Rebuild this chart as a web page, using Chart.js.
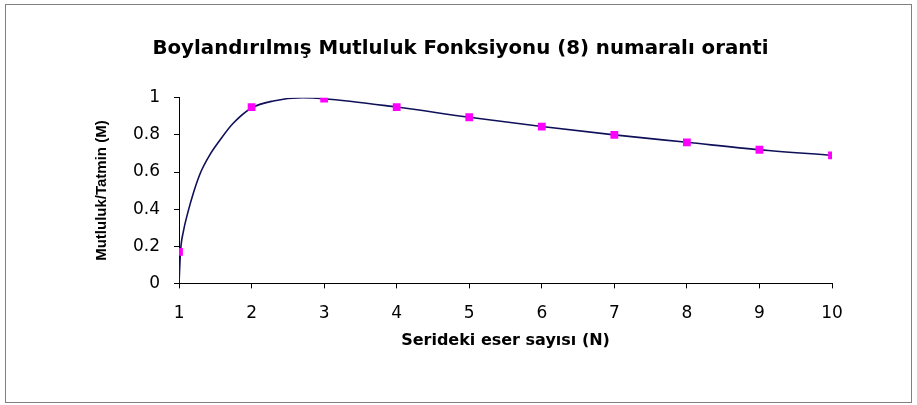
<!DOCTYPE html>
<html>
<head>
<meta charset="utf-8">
<script src="https://cdn.jsdelivr.net/npm/chart.js@4.4.0/dist/chart.umd.min.js"></script>
<style>
  html, body { margin: 0; padding: 0; background: #fff; }
  #frame { position: absolute; left: 5px; top: 4px; width: 905px; height: 397px; border: 1px solid #808080; }
  #wrap { position: absolute; left: 0; top: 0; width: 917px; height: 405px; }
</style>
</head>
<body>
<div id="frame"></div>
<div id="wrap"><canvas id="chart"></canvas></div>
<script>
// sample points (markers)
const seriesN = [1, 2, 3, 4, 5, 6, 7, 8, 9, 10];
const seriesM = [0.17, 0.95, 0.995, 0.95, 0.895, 0.845, 0.80, 0.76, 0.72, 0.69];

// smooth curve
const curveN = [1, 1.02, 1.06, 1.12, 1.2, 1.3, 1.42, 1.56, 1.74, 2, 2.3, 2.7, 3, 4, 5, 6, 7, 8, 9, 10];
const curveM = [0, 0.17, 0.28, 0.38, 0.49, 0.6, 0.69, 0.77, 0.86, 0.945, 0.983, 1.0, 0.995, 0.95, 0.895, 0.845, 0.80, 0.76, 0.72, 0.69];

const yTicks = [0, 0.2, 0.4, 0.6, 0.8, 1];

const titleText = "Boylandırılmış Mutluluk Fonksiyonu (8) numaralı oranti";
const xTitle = "Serideki eser sayısı (N)";
const yTitle = "Mutluluk/Tatmin (M)";

const curvePts = [];
for (i = 0; i < curveN.length; i++) {
    curvePts.push({x: curveN[i], y: curveM[i]});
}
const markerPts = [];
for (i = 0; i < seriesN.length; i++) {
    markerPts.push({x: seriesN[i], y: seriesM[i]});
}

new Chart("chart", {
    type: "scatter",
    data: {
        datasets: [{
            data: curvePts,
            showLine: true,
            borderColor: "#10105a",
            borderWidth: 1.6,
            pointRadius: 0,
            cubicInterpolationMode: "monotone",
            order: 2
        }, {
            data: markerPts,
            showLine: false,
            pointStyle: "rect",
            pointRadius: 5.5,
            backgroundColor: "#ff00ff",
            borderColor: "#ff00ff",
            borderWidth: 0,
            order: 1
        }]
    },
    options: {
        responsive: true,
        maintainAspectRatio: false,
        animation: false,
        layout: {padding: {left: 89, right: 85, top: 0, bottom: 55}},
        plugins: {
            legend: {display: false},
            tooltip: {enabled: false},
            title: {
                display: true,
                text: titleText,
                color: "#000",
                font: {family: "DejaVu Sans", size: 19.8, weight: "bold"},
                padding: {top: 37, bottom: 37}
            }
        },
        scales: {
            x: {
                type: "linear",
                min: 1,
                max: 10,
                ticks: {stepSize: 1, color: "#000", font: {family: "DejaVu Sans", size: 17}, padding: 15},
                grid: {drawOnChartArea: false, drawTicks: true, tickLength: 5, color: "#000"},
                border: {display: true, color: "#000", width: 1},
                title: {display: true, text: xTitle, color: "#000", font: {family: "DejaVu Sans", size: 16, weight: "bold"}, padding: {top: -8, bottom: 0}}
            },
            y: {
                min: 0,
                max: 1,
                afterBuildTicks: function(axis) {
                    axis.ticks = yTicks.map(v => ({value: v}));
                },
                ticks: {color: "#000", font: {family: "DejaVu Sans", size: 17}, padding: 14,
                        callback: v => String(v)},
                grid: {drawOnChartArea: false, drawTicks: true, tickLength: 5, color: "#000"},
                border: {display: true, color: "#000", width: 1},
                title: {display: true, text: yTitle, color: "#000", font: {family: "Liberation Sans", size: 15, weight: "bold"}, padding: {bottom: 8}}
            }
        }
    }
});
</script>
</body>
</html>
